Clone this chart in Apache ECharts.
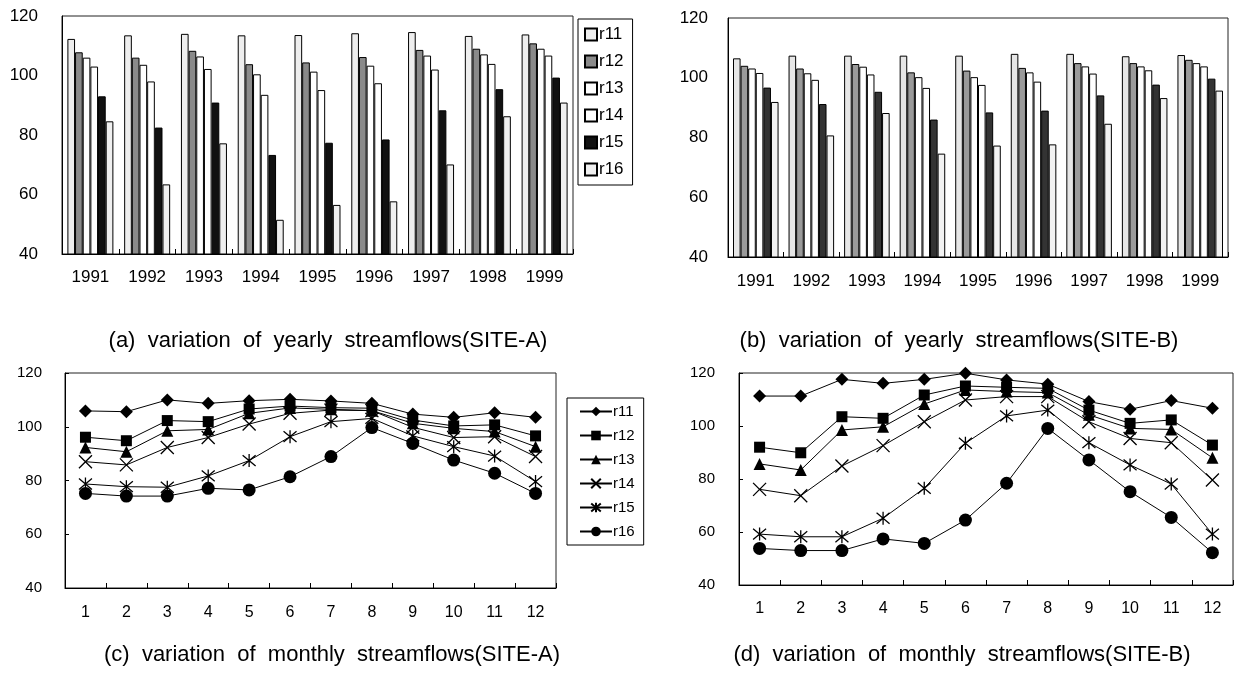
<!DOCTYPE html>
<html>
<head>
<meta charset="utf-8">
<script src="https://cdn.jsdelivr.net/npm/echarts@6/dist/echarts.min.js"></script>
<style>
html,body{margin:0;padding:0;background:#fff;}
.c{position:absolute;left:0;top:0;width:1236px;height:675px;}
</style>
</head>
<body>
<div id="ca" class="c"></div>
<div id="cb" class="c"></div>
<div id="cc" class="c"></div>
<div id="cd" class="c"></div>
<script>
const seriesNames = ['r11','r12','r13','r14','r15','r16'];
const years = ['1991','1992','1993','1994','1995','1996','1997','1998','1999'];
const months = ['1','2','3','4','5','6','7','8','9','10','11','12'];
const yTicks = [40, 120, 20];

// (a) yearly, SITE-A
const aR11 = [112.3,113.5,114.0,113.5,113.6,114.2,114.6,113.3,113.8];
const aR12 = [107.8,106.0,108.3,103.8,104.4,106.2,108.6,109.0,110.8];
const aR13 = [106.0,103.6,106.4,100.4,101.3,103.3,106.7,107.1,109.0];
const aR14 = [103.0,98.0,102.2,93.5,95.1,97.4,102.0,103.9,106.7];
const aR15 = [93.0,82.5,90.9,73.3,77.4,78.5,88.3,95.4,99.3];
const aR16 = [84.6,63.4,77.2,51.5,56.5,57.7,70.1,86.3,90.9];

// (b) yearly, SITE-B
const bR11 = [106.5,107.4,107.4,107.4,107.4,108.0,108.0,107.2,107.6];
const bR12 = [104.0,103.1,104.6,101.8,102.4,103.3,104.9,104.9,106.0];
const bR13 = [103.1,101.5,103.7,100.2,100.2,101.8,103.8,103.8,104.9];
const bR14 = [101.6,99.3,101.1,96.6,97.6,98.7,101.4,102.5,103.8];
const bR15 = [96.7,91.2,95.3,86.0,88.4,89.0,94.1,97.7,99.7];
const bR16 = [91.9,80.7,88.2,74.6,77.3,77.7,84.6,93.2,95.7];

// (c) monthly, SITE-A
const cR11 = [105.9,105.6,110.0,108.7,109.7,110.2,109.6,108.7,104.7,103.5,105.2,103.5];
const cR12 = [96.1,94.8,102.3,101.9,106.6,107.7,107.1,106.9,102.5,100.3,100.7,96.6];
const cR13 = [92.3,90.7,98.5,99.0,105.0,107.0,106.5,106.0,101.3,99.4,98.2,92.6];
const cR14 = [87.0,85.8,92.3,96.0,101.0,105.0,106.2,106.0,99.8,96.0,96.3,88.9];
const cR15 = [78.7,77.7,77.5,81.7,87.4,96.3,101.9,103.1,96.6,92.6,89.1,79.6];
const cR16 = [75.2,74.2,74.2,77.1,76.5,81.4,88.9,99.7,93.8,87.6,82.7,75.2];

// (d) monthly, SITE-B
const dR11 = [111.3,111.3,117.6,116.1,117.6,119.9,117.4,115.8,109.2,106.3,109.6,106.7];
const dR12 = [92.0,89.9,103.5,102.9,111.7,115.1,114.6,114.2,106.0,101.0,102.3,92.8];
const dR13 = [85.7,83.4,98.5,99.7,108.3,113.6,113.0,112.6,104.2,99.1,98.7,88.0];
const dR14 = [76.1,73.7,84.9,92.6,101.6,109.8,111.1,111.1,101.6,95.3,93.7,79.6];
const dR15 = [59.2,58.2,58.2,65.2,76.5,93.5,103.8,106.0,93.7,85.3,78.1,59.2];
const dR16 = [53.8,53.0,53.0,57.4,55.7,64.5,78.4,99.1,87.2,75.2,65.5,52.2];

const captions = [
  '(a)  variation  of  yearly  streamflows(SITE-A)',
  '(b)  variation  of  yearly  streamflows(SITE-B)',
  '(c)  variation  of  monthly  streamflows(SITE-A)',
  '(d)  variation  of  monthly  streamflows(SITE-B)'
];

const FONT = 'Liberation Sans, Arial, sans-serif';

function yAxisCfg(fs, margin, ticks) {
  return {
    type: 'value', min: yTicks[0], max: yTicks[1], interval: yTicks[2],
    axisLine: {show: true, lineStyle: {color: '#000', width: 1}},
    axisTick: {show: ticks, inside: true, length: 4, lineStyle: {color: '#000'}},
    splitLine: {show: false},
    axisLabel: {color: '#000', fontSize: fs, fontFamily: FONT, margin: margin}
  };
}
function xAxisCfg(cats, fs, margin) {
  return {
    type: 'category', data: cats, boundaryGap: true,
    axisLine: {show: true, lineStyle: {color: '#000', width: 1}},
    axisTick: {show: true, inside: true, length: 5, alignWithLabel: false, lineStyle: {color: '#000'}},
    splitLine: {show: false},
    axisLabel: {color: '#000', fontSize: fs, fontFamily: FONT, margin: margin, interval: 0}
  };
}

function capTitle(cap, capX, capY) {
  return {text: cap, left: capX, top: capY, textAlign: 'center',
    textStyle: {fontSize: 22, fontWeight: 'normal', color: '#000', fontFamily: FONT}};
}

function barChart(id, grid, data, colors, cap, capX, capY, legend, catGap, yMargin, xMargin) {
  const ch = echarts.init(document.getElementById(id), null, {renderer: 'canvas'});
  const series = data.map((d, i) => ({
    name: seriesNames[i], type: 'bar', data: d,
    barGap: '0%', barCategoryGap: catGap,
    itemStyle: {color: colors[i], borderColor: '#000', borderWidth: 1},
    animation: false
  }));
  const opt = {
    animation: false,
    grid: Object.assign({show: true, borderColor: '#222', borderWidth: 1, backgroundColor: 'transparent'}, grid),
    xAxis: xAxisCfg(years, 17, xMargin),
    yAxis: yAxisCfg(17, yMargin, false),
    title: capTitle(cap, capX, capY),
    series: series
  };
  if (legend) opt.legend = legend;
  ch.setOption(opt);
}

function crossPath() { return 'path://M0,0 L10,10 M10,0 L0,10'; }
function starPath() { return 'path://M0,1 L10,11 M10,1 L0,11 M5,0 L5,12'; }

function lineChart(id, grid, data, cap, capX, capY, legend, yMargin, xMargin) {
  const ch = echarts.init(document.getElementById(id), null, {renderer: 'canvas'});
  const syms = ['diamond', 'rect', 'triangle', crossPath(), starPath(), 'circle'];
  const sizes = [13, 11, 12, 13, 13, 13];
  const series = data.map((d, i) => ({
    name: seriesNames[i], type: 'line', data: d,
    symbol: syms[i], symbolSize: sizes[i], showSymbol: true,
    lineStyle: {color: '#000', width: 1},
    itemStyle: {color: '#000', borderColor: '#000', borderWidth: (i === 3 || i === 4) ? 1.3 : 0},
    animation: false
  }));
  const opt = {
    animation: false,
    grid: Object.assign({show: true, borderColor: '#222', borderWidth: 1}, grid),
    xAxis: xAxisCfg(months, 16, xMargin),
    yAxis: yAxisCfg(15, yMargin, true),
    title: capTitle(cap, capX, capY),
    series: series
  };
  if (legend) opt.legend = legend;
  ch.setOption(opt);
}

barChart('ca', {left: 62, right: 663, top: 16, bottom: 421},
  [aR11, aR12, aR13, aR14, aR15, aR16],
  ['#eeeeee', '#8a8a8a', '#ffffff', '#ffffff', '#111111', '#f0f0f0'],
  captions[0], 323, 325,
  {orient: 'vertical', left: 578, top: 19, padding: [7, 9, 7, 6], itemGap: 10,
   itemWidth: 12, itemHeight: 12, icon: 'rect', borderColor: '#000', borderWidth: 1,
   backgroundColor: '#fff', selectedMode: false,
   textStyle: {fontSize: 17, color: '#000', fontFamily: FONT, padding: [0, 0, 0, -3]},
   data: seriesNames},
  '19%', 24, 15);

barChart('cb', {left: 728, right: 8, top: 18, bottom: 418},
  [bR11, bR12, bR13, bR14, bR15, bR16],
  ['#e6e6e6', '#9a9a9a', '#ffffff', '#ffffff', '#333333', '#f2f2f2'],
  captions[1], 954, 325, null, '18%', 20, 16);

lineChart('cc', {left: 65, right: 680, top: 373, bottom: 87},
  [cR11, cR12, cR13, cR14, cR15, cR16],
  captions[2], 327, 639,
  {orient: 'vertical', left: 567, top: 398, padding: [6, 9, 6, 12], itemGap: 9,
   itemWidth: 32, itemHeight: 12, borderColor: '#000', borderWidth: 1,
   backgroundColor: '#fff', selectedMode: false,
   textStyle: {fontSize: 15, color: '#000', fontFamily: FONT, padding: [0, 0, 0, -4]},
   data: seriesNames},
  23, 17);

lineChart('cd', {left: 739, right: 3, top: 373, bottom: 90},
  [dR11, dR12, dR13, dR14, dR15, dR16],
  captions[3], 957, 639, null, 24, 16);
</script>
</body>
</html>
